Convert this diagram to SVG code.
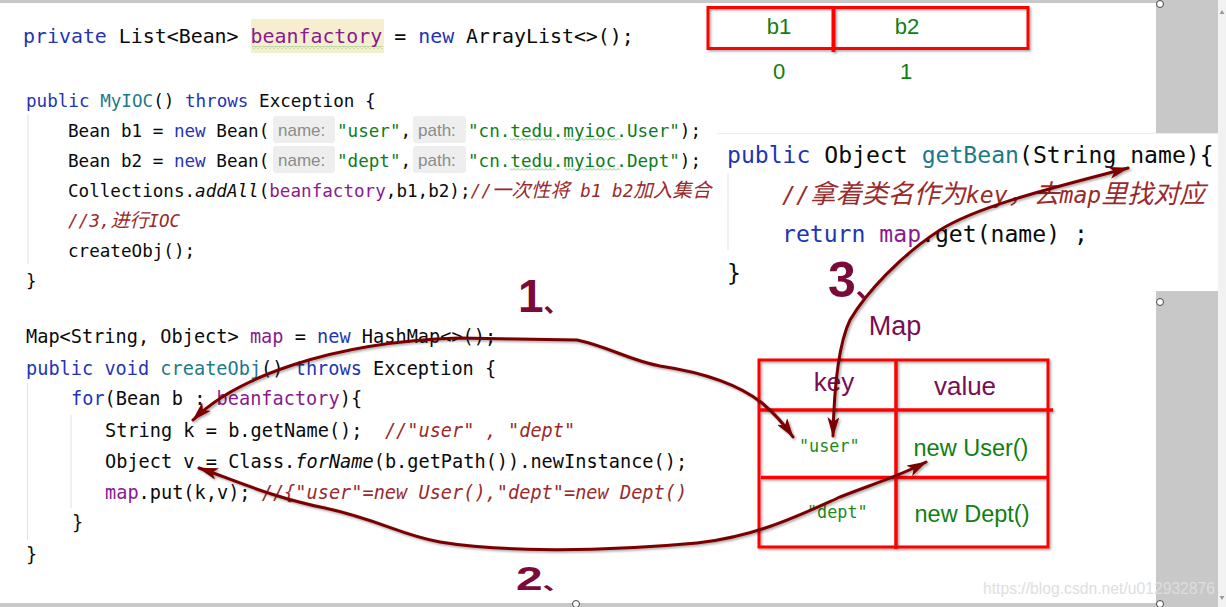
<svg xmlns="http://www.w3.org/2000/svg" width="1226" height="607" viewBox="0 0 1226 607">
<style>
.code{font-family:'DejaVu Sans Mono','Noto Sans CJK SC',monospace;fill:#0a0a0a;white-space:pre}
.kw{fill:#1f35b5}
.fn{fill:#1d7a8a}
.fd{fill:#8a1a8f}
.st{fill:#0b7d1d}
.cm{fill:#9b2a2a;font-style:italic}
.it{font-style:italic}
.cjk{font-family:'Noto Sans CJK SC',sans-serif}
.hint{font-family:'Liberation Sans',Arial,sans-serif;font-size:17px;fill:#8c8c8c}
.hintbox{fill:#eeeeee}
.red{fill:none;stroke:#ff0000;stroke-width:3}
.sans{font-family:'Liberation Sans',Arial,sans-serif}
.grn{fill:#0f800f}
.mag{fill:#7a0e52}
.hand{font-family:'Liberation Sans',Arial,sans-serif;font-weight:700;fill:#7a0a3a}
.tick{font-family:'Noto Sans CJK SC',sans-serif;font-weight:700}
.arrow{fill:none;stroke:#7a0000;stroke-width:3;stroke-linecap:round;stroke-linejoin:round}
.guide{stroke:#e2e2e2;stroke-width:1}
.gray{fill:#c8c8c8}
.handle{fill:#ffffff;stroke:#444444;stroke-width:1}
</style>
<defs>
<clipPath id="clipA"><rect x="0" y="0" width="713" height="300"/></clipPath>
<clipPath id="clipB"><rect x="0" y="300" width="690" height="303"/></clipPath>
<clipPath id="clipC"><rect x="717" y="133" width="501" height="158"/></clipPath>
<pattern id="wavy" width="4" height="3" patternUnits="userSpaceOnUse"><path d="M0,2.5 L2,0.5 L4,2.5" fill="none" stroke="#6fb86f" stroke-width="0.8"/></pattern>
<filter id="sh" filterUnits="userSpaceOnUse" x="0" y="0" width="1226" height="607"><feDropShadow dx="1.5" dy="1.5" stdDeviation="1.2" flood-color="#000" flood-opacity="0.35"/></filter>
<marker id="ah" viewBox="0 0 20 12" refX="19" refY="6" markerWidth="20" markerHeight="12" orient="auto-start-reverse" markerUnits="userSpaceOnUse"><path d="M0,0 L20,6 L0,12 L5,6 z" fill="#7a0000"/></marker>
</defs>

<rect x="0" y="0" width="1226" height="607" fill="#ffffff"/>

<!-- window chrome -->
<g id="chrome">
<rect class="gray" x="0" y="0" width="1156" height="3"/>
<rect class="gray" x="0" y="603" width="1218" height="4"/>
<rect class="gray" x="1156" y="0" width="62" height="133"/>
<rect class="gray" x="1156" y="291" width="62" height="313"/>
<rect x="1218" y="0" width="8" height="607" fill="#f2f2f2"/>
<path d="M1219.5,14 L1222,10 L1224.5,14 z" fill="#9a9a9a"/>
<path d="M1219.5,596 L1222,600 L1224.5,596 z" fill="#9a9a9a"/>
</g>

<!-- code block: field + constructor -->
<g id="code-field">
<rect x="251" y="19" width="133" height="34" fill="#f6efcf"/>
<rect x="252" y="46" width="131" height="3" fill="url(#wavy)"/>
<text class="code" x="23" y="43" font-size="19.9" xml:space="preserve"><tspan class="kw">private</tspan> List&lt;Bean&gt; <tspan class="fd">beanfactory</tspan> = <tspan class="kw">new</tspan> ArrayList&lt;&gt;();</text>
</g>

<g id="code-constructor" clip-path="url(#clipA)">
<line class="guide" x1="28" y1="114" x2="28" y2="264"/>
<text class="code" x="26" y="107" font-size="17.6" xml:space="preserve"><tspan class="kw">public</tspan> <tspan class="fn">MyIOC</tspan>() <tspan class="kw">throws</tspan> Exception {</text>
<rect class="hintbox" x="273" y="116" width="62" height="27" rx="3"/>
<rect class="hintbox" x="413" y="116" width="53" height="27" rx="3"/>
<text class="code" x="68" y="137" font-size="17.6" xml:space="preserve">Bean b1 = <tspan class="kw">new</tspan> Bean(</text>
<text class="hint" x="278" y="136">name:</text>
<text class="code" x="337" y="137" font-size="17.6" xml:space="preserve"><tspan class="st">"user"</tspan>,</text>
<text class="hint" x="418" y="136">path:</text>
<text class="code" x="468" y="137" font-size="17.6" xml:space="preserve"><tspan class="st">"cn.tedu.myioc.User"</tspan>);</text>
<rect x="510" y="138" width="46" height="3" fill="url(#wavy)"/>
<rect x="565" y="138" width="55" height="3" fill="url(#wavy)"/>
<rect class="hintbox" x="273" y="146" width="62" height="27" rx="3"/>
<rect class="hintbox" x="413" y="146" width="53" height="27" rx="3"/>
<text class="code" x="68" y="167" font-size="17.6" xml:space="preserve">Bean b2 = <tspan class="kw">new</tspan> Bean(</text>
<text class="hint" x="278" y="166">name:</text>
<text class="code" x="337" y="167" font-size="17.6" xml:space="preserve"><tspan class="st">"dept"</tspan>,</text>
<text class="hint" x="418" y="166">path:</text>
<text class="code" x="468" y="167" font-size="17.6" xml:space="preserve"><tspan class="st">"cn.tedu.myioc.Dept"</tspan>);</text>
<rect x="510" y="168" width="46" height="3" fill="url(#wavy)"/>
<rect x="565" y="168" width="55" height="3" fill="url(#wavy)"/>
<text class="code" x="68" y="197" font-size="17.6" xml:space="preserve">Collections.<tspan class="it">addAll</tspan>(<tspan class="fd">beanfactory</tspan>,b1,b2);<tspan class="cm">//<tspan class="cjk" font-size="19.5">一次性将</tspan> b1 b2<tspan class="cjk" font-size="19.5">加入集合</tspan></tspan></text>
<text class="code" x="68" y="227" font-size="17.6" xml:space="preserve"><tspan class="cm">//3,<tspan class="cjk" font-size="19">进行</tspan>IOC</tspan></text>
<text class="code" x="68" y="257" font-size="17.6" xml:space="preserve">createObj();</text>
<text class="code" x="26" y="287" font-size="17.6">}</text>
</g>

<!-- code block: createObj -->
<g id="code-createObj" clip-path="url(#clipB)">
<line class="guide" x1="27.5" y1="383" x2="27.5" y2="540"/>
<line class="guide" x1="71" y1="415" x2="71" y2="508"/>
<text class="code" x="26" y="343" font-size="18.6" xml:space="preserve">Map&lt;String, Object&gt; <tspan class="fd">map</tspan> = <tspan class="kw">new</tspan> HashMap&lt;&gt;();</text>
<text class="code" x="26" y="375" font-size="18.6" xml:space="preserve"><tspan class="kw">public</tspan> <tspan class="kw">void</tspan> <tspan class="fn">createObj</tspan>() <tspan class="kw">throws</tspan> Exception {</text>
<text class="code" x="71" y="405" font-size="18.6" xml:space="preserve"><tspan class="kw">for</tspan>(Bean b : <tspan class="fd">beanfactory</tspan>){</text>
<text class="code" x="105" y="437" font-size="18.6" xml:space="preserve">String k = b.getName();  <tspan class="cm">//"user" , "dept"</tspan></text>
<text class="code" x="105" y="468" font-size="18.6" xml:space="preserve">Object v = Class.<tspan class="it">forName</tspan>(b.getPath()).newInstance();</text>
<text class="code" x="105" y="499" font-size="18.6" xml:space="preserve"><tspan class="fd">map</tspan>.put(k,v); <tspan class="cm">//{"user"=new User(),"dept"=new Dept()</tspan></text>
<text class="code" x="72" y="529" font-size="18.6">}</text>
<text class="code" x="26" y="561" font-size="18.6">}</text>
</g>

<!-- array b1 b2 -->
<g id="array-beans">
<g filter="url(#sh)">
<rect class="red" x="708" y="7.5" width="320" height="41"/>
<line x1="833.5" y1="7" x2="833.5" y2="52" stroke="#ff0000" stroke-width="4"/>
</g>
<text class="sans grn" x="779" y="34" font-size="22" text-anchor="middle">b1</text>
<text class="sans grn" x="907" y="34" font-size="22" text-anchor="middle">b2</text>
<text class="sans grn" x="779" y="79" font-size="22" text-anchor="middle">0</text>
<text class="sans grn" x="906" y="79" font-size="22" text-anchor="middle">1</text>
</g>

<!-- getBean code -->
<g id="code-getBean" clip-path="url(#clipC)">
<rect x="717" y="133" width="501" height="158" fill="#ffffff"/>
<line x1="717" y1="133.5" x2="1218" y2="133.5" stroke="#f3eedc" stroke-width="1"/>
<line class="guide" x1="728" y1="173" x2="728" y2="250"/>
<text class="code" x="727" y="163" font-size="23.1" xml:space="preserve"><tspan class="kw">public</tspan> Object <tspan class="fn">getBean</tspan>(String name){</text>
<text class="code" x="782" y="203" font-size="23.1" xml:space="preserve"><tspan class="cm">//<tspan class="cjk" font-size="26">拿着类名作为</tspan>key<tspan class="cjk" font-size="26">，去</tspan>map<tspan class="cjk" font-size="26">里找对应</tspan></tspan></text>
<text class="code" x="782" y="242" font-size="23.1" xml:space="preserve"><tspan class="kw">return</tspan> <tspan class="fd">map</tspan>.get(name) ;</text>
<text class="code" x="727" y="281" font-size="23.1">}</text>
</g>

<!-- map table -->
<g id="map-table">
<text class="sans mag" x="895" y="335" font-size="27" text-anchor="middle">Map</text>
<g filter="url(#sh)">
<rect class="red" x="759" y="360" width="289" height="187"/>
<line x1="896" y1="359" x2="896" y2="549" stroke="#ff0000" stroke-width="3.5"/>
<line x1="759" y1="410" x2="1053" y2="410" stroke="#ff0000" stroke-width="3.5"/>
<line x1="761" y1="477.5" x2="1048" y2="477.5" stroke="#ff0000" stroke-width="3.5"/>
</g>
<text class="sans mag" x="834" y="391" font-size="26" text-anchor="middle">key</text>
<text class="sans mag" x="965" y="395" font-size="26" text-anchor="middle">value</text>
<text class="code" x="799" y="452" font-size="16.8" style="fill:#1a8a1a">"user"</text>
<text class="code" x="807" y="518" font-size="16.8" style="fill:#1a8a1a">"dept"</text>
<text class="sans grn" x="971" y="456" font-size="23.5" text-anchor="middle">new User()</text>
<text class="sans grn" x="972" y="522" font-size="23.5" text-anchor="middle">new Dept()</text>
</g>

<!-- connectors -->
<g id="connectors" filter="url(#sh)">
<path class="arrow" marker-start="url(#ah)" marker-end="url(#ah)" d="M193,420 C235,378 330,342 459,338 L577,340 C610,347 628,360 660,366 C700,372 738,384 762,403 C775,414 784,424 793,437"/>
<path class="arrow" marker-start="url(#ah)" marker-end="url(#ah)" d="M199,468 C232,479 270,497 325,508 C380,520 400,535 440,542 C500,552 600,552 697,543 C758,536 800,515 840,497 C870,485 900,476 926,462"/>
<path class="arrow" marker-start="url(#ah)" marker-end="url(#ah)" d="M1128,168 C1060,186 980,205 940,230 C900,256 866,293 850,320 C838,345 834,390 833,436"/>
</g>

<!-- handwritten step labels -->
<g id="step-labels">
<text class="hand" x="518" y="312" font-size="46">1<tspan class="tick" font-size="26">、</tspan></text>
<text class="hand" transform="translate(516,590) scale(1.45,1)" font-size="33">2<tspan class="tick" font-size="20">、</tspan></text>
<text class="hand" x="828" y="297" font-size="50">3<tspan class="tick" font-size="26">、</tspan></text>
</g>

<!-- watermark and handles -->
<text class="sans" x="983" y="594" font-size="15.7" fill="#dedede">https://blog.csdn.net/u012932876</text>
<g id="handles">
<circle class="handle" cx="1160" cy="4" r="3.5"/>
<circle class="handle" cx="576" cy="604" r="3.5"/>
<circle class="handle" cx="1160" cy="302" r="3.5"/>
<circle class="handle" cx="1160" cy="604" r="3.5"/>
</g>
</svg>
